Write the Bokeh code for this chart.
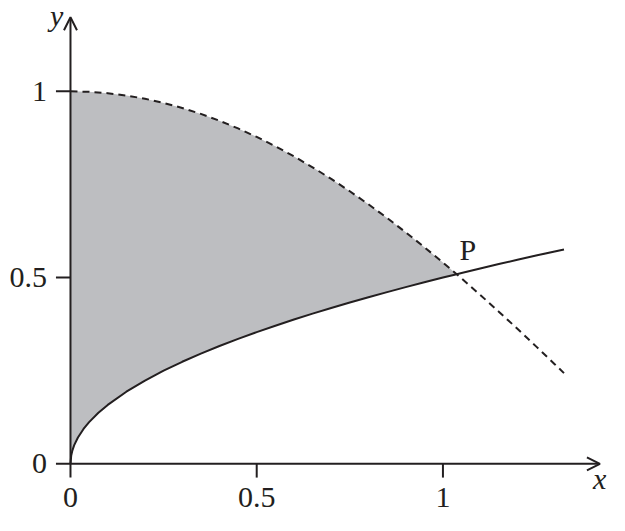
from bokeh.plotting import figure
from bokeh.models import Range1d, Arrow, OpenHead
from bokeh.core.properties import value
from bokeh.embed import file_html
from bokeh.resources import INLINE

# ---- data ----
# solid curve (lower boundary)
solid_x = [0, 0.002, 0.005, 0.01, 0.02, 0.035, 0.05, 0.075, 0.1, 0.15, 0.2, 0.25,
           0.3, 0.35, 0.4, 0.45, 0.5, 0.55, 0.6, 0.65, 0.7, 0.75, 0.8, 0.85, 0.9,
           0.95, 1.0, 1.037, 1.05, 1.1, 1.15, 1.2, 1.25, 1.3, 1.325]
solid_y = [0, 0.0224, 0.0354, 0.05, 0.0707, 0.0935, 0.1118, 0.1369, 0.1581, 0.1936,
           0.2236, 0.25, 0.2739, 0.2958, 0.3162, 0.3354, 0.3536, 0.3708, 0.3873,
           0.4031, 0.4183, 0.4330, 0.4472, 0.4610, 0.4743, 0.4873, 0.5, 0.509,
           0.5123, 0.5244, 0.5362, 0.5477, 0.5590, 0.5701, 0.5755]
# dashed curve (upper boundary)
dash_x = [0, 0.05, 0.1, 0.15, 0.2, 0.25, 0.3, 0.35, 0.4, 0.45, 0.5, 0.55, 0.6, 0.65,
          0.7, 0.75, 0.8, 0.85, 0.9, 0.95, 1.0, 1.037, 1.05, 1.1, 1.15, 1.2, 1.25,
          1.3, 1.325]
dash_y = [1, 0.9988, 0.9950, 0.9888, 0.9801, 0.9689, 0.9553, 0.9394, 0.9211, 0.9004,
          0.8776, 0.8525, 0.8253, 0.7961, 0.7648, 0.7317, 0.6967, 0.6600, 0.6216,
          0.5817, 0.5403, 0.509, 0.4976, 0.4536, 0.4085, 0.3624, 0.3153, 0.2675,
          0.2434]
# intersection point P
p_x = 1.037
p_label = "P"

xtick_vals = [0, 0.5, 1]
xtick_labels = ["0", "0.5", "1"]
ytick_vals = [0, 0.5, 1]
ytick_labels = ["0", "0.5", "1"]

INK = "#231f20"
FILL = "#bdbec1"
FONT = value("Liberation Serif")
FS = "30px"

p = figure(width=609, height=515, x_range=Range1d(-0.1879, 1.4472),
           y_range=Range1d(-0.1388, 1.2439), x_axis_type=None, y_axis_type=None,
           toolbar_location=None, output_backend="svg", min_border=0,
           outline_line_color=None)
p.grid.visible = False

# shaded region between curves, from x=0 to P
lower = [(x, y) for x, y in zip(solid_x, solid_y) if x <= p_x]
upper = [(x, y) for x, y in zip(dash_x, dash_y) if x <= p_x]
fx = [pt[0] for pt in lower] + [pt[0] for pt in reversed(upper)]
fy = [pt[1] for pt in lower] + [pt[1] for pt in reversed(upper)]
p.patch(fx, fy, fill_color=FILL, line_color=None)

# curves
p.line(solid_x, solid_y, line_color=INK, line_width=2)
p.line(dash_x, dash_y, line_color=INK, line_width=2, line_dash="7 5")

# axes with arrows
p.add_layout(Arrow(end=OpenHead(size=13, line_width=2, line_color=INK),
                   x_start=-0.039, y_start=0, x_end=1.4215, y_end=0,
                   line_width=2, line_color=INK))
p.add_layout(Arrow(end=OpenHead(size=13, line_width=2, line_color=INK),
                   x_start=0, y_start=-0.037, x_end=0, y_end=1.199,
                   line_width=2, line_color=INK))

# ticks
xt = [v for v in xtick_vals if v != 0]
p.segment(x0=xt, y0=[0] * len(xt), x1=xt, y1=[-0.037] * len(xt),
          line_color=INK, line_width=2)
yt = [v for v in ytick_vals if v != 0]
p.segment(x0=[-0.039] * len(yt), y0=yt, x1=[0] * len(yt), y1=yt,
          line_color=INK, line_width=2)

# tick labels
p.text(x=xtick_vals, y=[-0.0916] * len(xtick_vals), text=xtick_labels,
       text_font=FONT, text_font_size=FS, text_align="center",
       text_baseline="middle", text_color=INK)
p.text(x=[-0.063] * len(ytick_vals), y=ytick_vals, text=ytick_labels,
       text_font=FONT, text_font_size=FS, text_align="right",
       text_baseline="middle", text_color=INK)

# axis names
p.text(x=[-0.037], y=[1.203], text=["y"], text_font=FONT, text_font_size=FS,
       text_font_style="italic", text_align="center", text_baseline="middle",
       text_color=INK)
p.text(x=[1.403], y=[-0.040], text=["x"], text_font=FONT, text_font_size=FS,
       text_font_style="italic", text_align="left", text_baseline="middle",
       text_color=INK)

# point label
p.text(x=[1.0445], y=[0.5746], text=[p_label], text_font=FONT, text_font_size=FS,
       text_align="left", text_baseline="middle", text_color=INK)

open("out.html", "w").write(file_html(p, INLINE))
